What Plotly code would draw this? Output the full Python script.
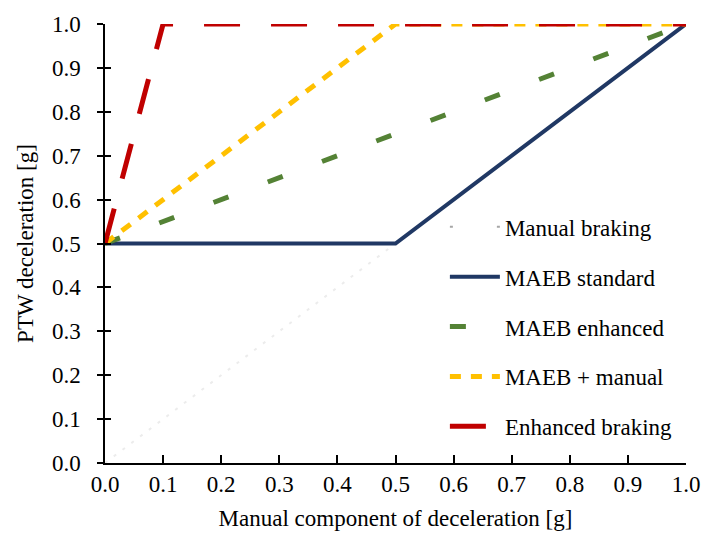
import plotly.graph_objects as go

# Data
names = ["Manual braking", "MAEB standard", "MAEB enhanced", "MAEB + manual", "Enhanced braking"]
manual_x = [0.0, 1.0]
manual_y = [0.0, 1.0]
std_x = [0.0, 0.5, 1.0]
std_y = [0.5, 0.5, 1.0]
enh_x = [0.0, 1.0]
enh_y = [0.5, 1.0]
plus_x = [0.0, 0.5, 1.0]
plus_y = [0.5, 1.0, 1.0]
eb_x = [0.0, 0.1, 1.0]
eb_y = [0.5, 1.0, 1.0]
tick_vals = [0.0, 0.1, 0.2, 0.3, 0.4, 0.5, 0.6, 0.7, 0.8, 0.9, 1.0]
tick_text = ["0.0", "0.1", "0.2", "0.3", "0.4", "0.5", "0.6", "0.7", "0.8", "0.9", "1.0"]

FONT = "Liberation Serif"
FS = 23

fig = go.Figure()
# faint diagonal in the plot (legend entry drawn separately)
fig.add_trace(go.Scatter(
    x=manual_x, y=manual_y, mode="lines", showlegend=False, hoverinfo="skip",
    line=dict(color="#ececec", width=2, dash="3px,8px"),
))
series = [
    (manual_x, manual_y, names[0], "#a6a6a6", 2, "3px,44px", True),
    (std_x, std_y, names[1], "#203864", 4, "solid", False),
    (enh_x, enh_y, names[2], "#548235", 5, "16px,42px", False),
    (plus_x, plus_y, names[3], "#FFC000", 5, "11px,10px", False),
    (eb_x, eb_y, names[4], "#C00000", 5, "36px,31px", False),
]
for i, (x, y, n, c, w, d, legend_only) in enumerate(series):
    fig.add_trace(go.Scatter(
        x=[None] if legend_only else x, y=[None] if legend_only else y,
        name=n, mode="lines", legendgroup=str(i),
        line=dict(color=c, width=w, dash=d),
    ))

# second axis for inner half of crossing y ticks
fig.add_trace(go.Scatter(x=[0], y=[0], yaxis="y2", mode="markers",
                         marker=dict(opacity=0), showlegend=False, hoverinfo="skip"))

fig.update_layout(
    width=712, height=551,
    margin=dict(l=105, r=19, t=18, b=88),
    paper_bgcolor="white", plot_bgcolor="white",
    showlegend=True,
    legend=dict(
        x=0.585, y=0.587, xanchor="left", yanchor="top",
        font=dict(family=FONT, size=FS, color="black"),
        itemwidth=50, tracegroupgap=17, bgcolor="rgba(0,0,0,0)",
    ),
    xaxis=dict(
        range=[0, 1], tickvals=tick_vals, ticktext=tick_text,
        ticks="inside", ticklen=8, tickwidth=1.5, tickcolor="black",
        showline=True, linecolor="black", linewidth=1.5,
        showgrid=False, zeroline=False,
        tickfont=dict(family=FONT, size=FS, color="black"),
        title=dict(text="Manual component of deceleration [g]", standoff=14,
                   font=dict(family=FONT, size=FS, color="black")),
    ),
    yaxis=dict(
        range=[0, 1], tickvals=tick_vals, ticktext=tick_text,
        ticks="outside", ticklen=6, tickwidth=1.5, tickcolor="black",
        showline=True, linecolor="black", linewidth=1.5,
        showgrid=False, zeroline=False, ticklabelstandoff=12,
        tickfont=dict(family=FONT, size=FS, color="black"),
        title=dict(text="PTW deceleration [g]", standoff=12,
                   font=dict(family=FONT, size=FS, color="black")),
    ),
    yaxis2=dict(
        range=[0, 1], tickvals=tick_vals, overlaying="y", side="left",
        ticks="inside", ticklen=6, tickwidth=1.5, tickcolor="black",
        showticklabels=False, showgrid=False, zeroline=False, showline=False,
    ),
)

fig.write_html("out.html")
